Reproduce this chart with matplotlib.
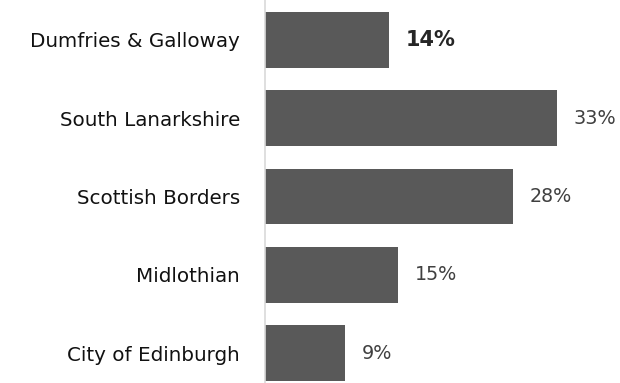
import matplotlib.pyplot as plt

# Share of respondents by council area
areas = ['City of Edinburgh', 'Midlothian', 'Scottish Borders',
         'South Lanarkshire', 'Dumfries & Galloway']
shares = [9, 15, 28, 33, 14]
highlight = 'Dumfries & Galloway'

plt.rcParams['font.family'] = ['DejaVu Sans']

fig = plt.figure(figsize=(6.2, 3.83), dpi=100)
ax = fig.add_axes([265 / 620, 0, 1 - 265 / 620, 1])

pos = range(len(areas))
ax.barh(pos, shares, height=0.71, color='#595959')

ax.set_xlim(0, 40.1)
ax.set_ylim(-0.383, 4.511)
ax.set_yticks(list(pos))
ax.set_yticklabels(areas, fontsize=14.3, color='#111111')
ax.tick_params(axis='y', length=0, pad=18)
ax.set_xticks([])

for s in ['top', 'right', 'bottom']:
    ax.spines[s].set_visible(False)
ax.spines['left'].set_color('#d9d9d9')
ax.spines['left'].set_linewidth(1.2)

for i, (name, v) in enumerate(zip(areas, shares)):
    if name == highlight:
        ax.annotate(f'{v}%', (v, i), xytext=(12, 0), textcoords='offset points',
                    ha='left', va='center', fontsize=15, fontweight='bold',
                    color='#262626')
    else:
        ax.annotate(f'{v}%', (v, i), xytext=(12, 0), textcoords='offset points',
                    ha='left', va='center', fontsize=13.8, color='#404040')

fig.savefig('out.png', dpi=100)
